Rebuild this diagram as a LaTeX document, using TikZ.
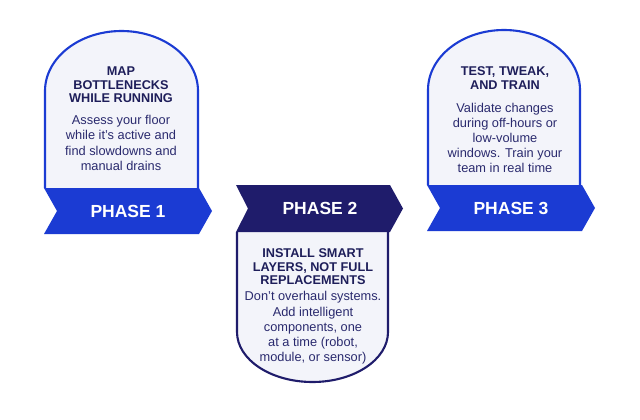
\documentclass[tikz,border=0pt]{standalone}
\usepackage{fontspec}
\setmainfont{Liberation Sans}
\definecolor{bblue}{HTML}{1B3BD3}
\definecolor{navy}{HTML}{1F1C6B}
\definecolor{boxfill}{HTML}{F3F4FA}
\definecolor{titlec}{HTML}{1E1E5A}
\definecolor{bodyc}{HTML}{2A2A6E}
\begin{document}
\begin{tikzpicture}[x=1pt,y=-1pt,
  card/.style={fill=boxfill,line width=2.1pt,line join=round},
  titletext/.style={inner sep=0pt,align=center,text=titlec,font=\fontsize{12.7}{13.6}\selectfont\bfseries},
  bodytext/.style={inner sep=0pt,align=center,text=bodyc,font=\fontsize{12.8}{15.2}\selectfont},
  phasetext/.style={inner sep=0pt,text=white,font=\fontsize{17.5}{17.5}\selectfont\bfseries}]
\useasboundingbox (0,0) rectangle (640,420);
% Panel 1
\draw[card,draw=bblue] (45,188) -- (45,91) arc[start angle=180,end angle=360,x radius=76.5,y radius=60] -- (198,188);
\fill[bblue] (44,188) -- (199,188) -- (212,211) -- (199,234) -- (44,234) -- (57,211) -- cycle;
\node[titletext] (t1) at (121,85) {MAP\\BOTTLENECKS\\WHILE RUNNING};
\node[bodytext] (b1) at (121,143) {Assess your floor\\while it’s active and\\find slowdowns and\\manual drains};
\node[phasetext] (p1) at (128,211) {PHASE 1};
% Panel 2
\draw[card,draw=navy] (237,232) -- (237,332) arc[start angle=180,end angle=0,x radius=75.5,y radius=50] -- (388,232);
\fill[navy] (236,185) -- (390,185) -- (403,208.5) -- (390,232) -- (236,232) -- (248,208.5) -- cycle;
\node[phasetext] (p2) at (320,208.5) {PHASE 2};
\node[titletext] (t2) at (313,267) {INSTALL SMART\\LAYERS, NOT FULL\\REPLACEMENTS};
\node[bodytext] (b2) at (313,328) {Don’t overhaul systems.\\Add intelligent\\components, one\\at a time (robot,\\module, or sensor)};
% Panel 3
\draw[card,draw=bblue] (428,185) -- (428,90) arc[start angle=180,end angle=360,x radius=76,y radius=60] -- (580,185);
\fill[bblue] (427,185) -- (582,185) -- (595,208) -- (582,231) -- (427,231) -- (440,208) -- cycle;
\node[titletext] (t3) at (505,78) {TEST, TWEAK,\\AND TRAIN};
\node[bodytext] (b3) at (505,138) {Validate changes\\during off-hours or\\low-volume\\windows. Train your\\team in real time};
\node[phasetext] (p3) at (511,208) {PHASE 3};
\end{tikzpicture}
\end{document}
